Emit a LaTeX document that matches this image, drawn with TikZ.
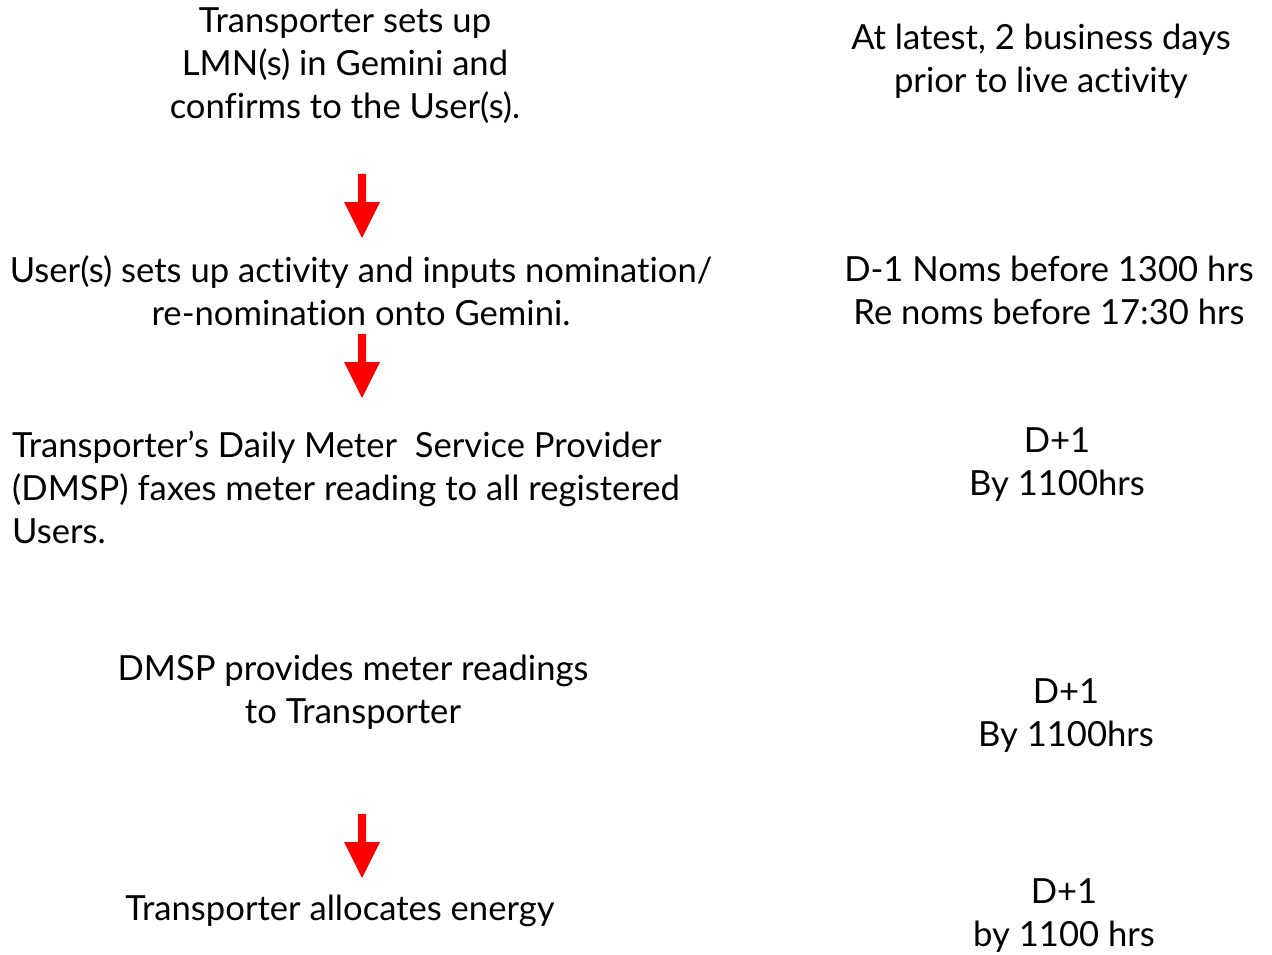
\documentclass[tikz,border=0pt]{standalone}
\usepackage{fontspec}
\setmainfont[Ligatures=NoCommon]{Lato}
\begin{document}
\begin{tikzpicture}[x=1pt,y=-1pt,
  txt/.style={inner sep=0pt, font=\fontsize{34.6}{43}\selectfont, align=center},
  txtl/.style={inner sep=0pt, font=\fontsize{34.6}{43}\selectfont, align=left, anchor=west}]
\useasboundingbox[fill=white] (0,0) rectangle (1272,955);
\newcommand{\downarrowshape}[2]{% x, top y
  \fill[red] (#1-4,#2) -- (#1+4,#2) -- (#1+4,#2+28) -- (#1+18,#2+28) -- (#1,#2+64) -- (#1-18,#2+28) -- (#1-4,#2+28) -- cycle;}
\node[txt] (n1) at (345,66) {Transporter sets up\\LMN(s) in Gemini and\\confirms to the User(s).};
\node[txt] (r1) at (1041,61) {At latest, 2 business days\\prior to live activity};
\node[txt] (n2) at (361,291) {User(s) sets up activity and inputs nomination/\\re-nomination onto Gemini.};
\node[txt] (r2) at (1049,290) {D-1 Noms before 1300 hrs\\Re noms before 17:30 hrs};
\node[txtl] (n3) at (12,487) {Transporter's Daily Meter\ \ Service Provider\\(DMSP) faxes meter reading to all registered\\Users.};
\node[txt] (r3) at (1057,465) {D+1\\By 1100hrs};
\node[txt] (n4) at (353,692) {DMSP provides meter readings\\to Transporter};
\node[txt] (r4) at (1066,716) {D+1\\By 1100hrs};
\node[txt] (n5) at (340,911) {Transporter allocates energy};
\node[txt] (r5) at (1064,916) {D+1\\by 1100 hrs};
\downarrowshape{362}{174}
\downarrowshape{362}{334}
\downarrowshape{362}{814}
\end{tikzpicture}
\end{document}
